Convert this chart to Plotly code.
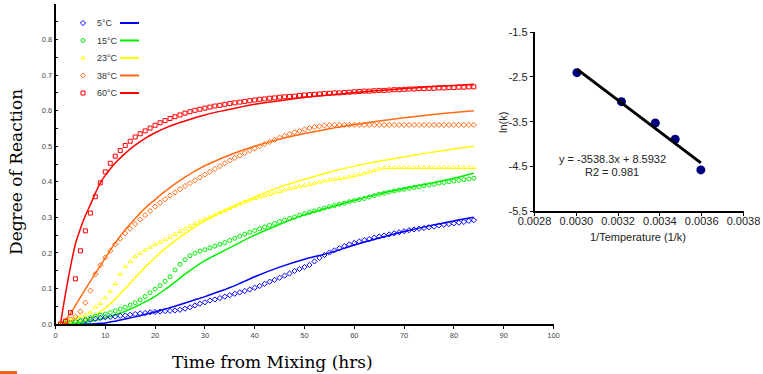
import numpy as np
import plotly.graph_objects as go

# ---------------- data ----------------
hours = list(range(1, 85))

deg_60C = [0.000, 0.008, 0.032, 0.127, 0.206, 0.262, 0.312, 0.358, 0.397, 0.428,
           0.452, 0.472, 0.488, 0.502, 0.514, 0.526, 0.535, 0.543, 0.551, 0.559,
           0.566, 0.572, 0.578, 0.583, 0.588, 0.593, 0.597, 0.601, 0.604, 0.607,
           0.610, 0.613, 0.615, 0.618, 0.620, 0.622, 0.624, 0.626, 0.628, 0.630,
           0.632, 0.633, 0.635, 0.636, 0.638, 0.639, 0.640, 0.641, 0.643, 0.644,
           0.645, 0.646, 0.647, 0.648, 0.649, 0.650, 0.650, 0.651, 0.652, 0.653,
           0.654, 0.655, 0.655, 0.656, 0.657, 0.657, 0.658, 0.659, 0.659, 0.660,
           0.661, 0.661, 0.662, 0.662, 0.663, 0.663, 0.664, 0.664, 0.665, 0.665,
           0.666, 0.666, 0.667, 0.667]

deg_38C = [0.000, 0.008, 0.013, 0.020, 0.035, 0.060, 0.094, 0.140, 0.165, 0.187,
           0.206, 0.224, 0.240, 0.255, 0.268, 0.281, 0.294, 0.306, 0.318, 0.330,
           0.341, 0.351, 0.361, 0.370, 0.379, 0.388, 0.396, 0.404, 0.412, 0.420,
           0.428, 0.436, 0.444, 0.452, 0.460, 0.467, 0.474, 0.481, 0.488, 0.494,
           0.500, 0.506, 0.512, 0.518, 0.524, 0.529, 0.534, 0.539, 0.543, 0.547,
           0.551, 0.554, 0.556, 0.558, 0.559, 0.560, 0.560, 0.560, 0.560, 0.560,
           0.560, 0.560, 0.560, 0.560, 0.560, 0.560, 0.560, 0.560, 0.560, 0.560,
           0.560, 0.560, 0.560, 0.560, 0.560, 0.560, 0.560, 0.560, 0.560, 0.560,
           0.560, 0.560, 0.560, 0.560]

deg_23C = [0.000, 0.007, 0.011, 0.016, 0.021, 0.025, 0.033, 0.047, 0.058, 0.074,
           0.092, 0.114, 0.140, 0.161, 0.176, 0.189, 0.199, 0.208, 0.216, 0.223,
           0.230, 0.237, 0.244, 0.252, 0.260, 0.267, 0.275, 0.282, 0.289, 0.295,
           0.301, 0.307, 0.313, 0.319, 0.325, 0.331, 0.337, 0.343, 0.348, 0.353,
           0.357, 0.361, 0.365, 0.369, 0.373, 0.377, 0.381, 0.384, 0.387, 0.390,
           0.393, 0.396, 0.399, 0.402, 0.405, 0.407, 0.409, 0.411, 0.414, 0.417,
           0.420, 0.424, 0.428, 0.432, 0.436, 0.439, 0.440, 0.440, 0.440, 0.440,
           0.440, 0.440, 0.440, 0.440, 0.440, 0.440, 0.440, 0.440, 0.440, 0.440,
           0.440, 0.440, 0.440, 0.440]

deg_15C = [0.000, 0.002, 0.004, 0.006, 0.009, 0.013, 0.018, 0.022, 0.025, 0.028,
           0.032, 0.037, 0.042, 0.047, 0.053, 0.060, 0.068, 0.077, 0.088, 0.098,
           0.108, 0.120, 0.133, 0.152, 0.168, 0.181, 0.192, 0.199, 0.205, 0.209,
           0.214, 0.219, 0.224, 0.229, 0.235, 0.241, 0.247, 0.253, 0.258, 0.263,
           0.268, 0.273, 0.278, 0.283, 0.288, 0.292, 0.297, 0.301, 0.306, 0.310,
           0.314, 0.318, 0.322, 0.326, 0.330, 0.333, 0.337, 0.340, 0.344, 0.347,
           0.350, 0.353, 0.357, 0.361, 0.365, 0.368, 0.371, 0.374, 0.377, 0.379,
           0.382, 0.384, 0.386, 0.389, 0.391, 0.393, 0.396, 0.398, 0.400, 0.402,
           0.404, 0.406, 0.408, 0.410]

deg_5C = [0.000, 0.002, 0.004, 0.007, 0.009, 0.011, 0.013, 0.015, 0.017, 0.019,
          0.020, 0.021, 0.023, 0.024, 0.026, 0.028, 0.030, 0.031, 0.033, 0.034,
          0.035, 0.036, 0.037, 0.038, 0.040, 0.043, 0.047, 0.052, 0.057, 0.061,
          0.066, 0.069, 0.073, 0.077, 0.081, 0.085, 0.089, 0.093, 0.097, 0.102,
          0.107, 0.113, 0.119, 0.124, 0.130, 0.136, 0.142, 0.149, 0.155, 0.160,
          0.166, 0.176, 0.186, 0.194, 0.201, 0.207, 0.213, 0.219, 0.224, 0.228,
          0.232, 0.236, 0.239, 0.243, 0.246, 0.249, 0.252, 0.255, 0.258, 0.261,
          0.264, 0.266, 0.268, 0.270, 0.272, 0.274, 0.277, 0.279, 0.281, 0.283,
          0.285, 0.287, 0.290, 0.292]

model_hours = [1, 2, 3, 4, 5, 6, 7, 8, 9, 10, 12, 14, 16, 18, 20, 22, 24, 26, 28, 30,
               33, 36, 40, 45, 50, 55, 60, 65, 70, 75, 80, 84]
model_60C = [0.000, 0.085, 0.160, 0.225, 0.268, 0.305, 0.335, 0.368, 0.397, 0.418,
             0.453, 0.480, 0.503, 0.522, 0.538, 0.551, 0.562, 0.571, 0.580, 0.588,
             0.598, 0.607, 0.618, 0.628, 0.637, 0.644, 0.651, 0.657, 0.662, 0.667,
             0.671, 0.674]
model_38C = [0.000, 0.012, 0.030, 0.052, 0.075, 0.098, 0.120, 0.142, 0.164, 0.186,
             0.228, 0.265, 0.297, 0.326, 0.350, 0.373, 0.394, 0.413, 0.430, 0.445,
             0.464, 0.481, 0.500, 0.520, 0.536, 0.549, 0.561, 0.571, 0.580, 0.588,
             0.595, 0.600]
model_23C = [0.000, 0.001, 0.003, 0.005, 0.008, 0.012, 0.018, 0.026, 0.035, 0.045,
             0.070, 0.100, 0.130, 0.160, 0.187, 0.212, 0.234, 0.254, 0.273, 0.290,
             0.313, 0.333, 0.357, 0.385, 0.407, 0.427, 0.444, 0.458, 0.470, 0.482,
             0.492, 0.500]
model_15C = [0.000, 0.000, 0.001, 0.002, 0.003, 0.005, 0.007, 0.010, 0.013, 0.017,
             0.026, 0.036, 0.048, 0.062, 0.078, 0.097, 0.118, 0.140, 0.160, 0.178,
             0.200, 0.222, 0.250, 0.280, 0.307, 0.328, 0.348, 0.366, 0.381, 0.395,
             0.410, 0.424]
model_5C = [0.000, 0.000, 0.000, 0.000, 0.000, 0.000, 0.000, 0.001, 0.002, 0.003,
            0.008, 0.014, 0.020, 0.027, 0.034, 0.042, 0.050, 0.059, 0.068, 0.077,
            0.092, 0.108, 0.133, 0.160, 0.182, 0.200, 0.222, 0.242, 0.260, 0.276,
            0.290, 0.300]

series_names = ["5°C", "15°C", "23°C", "38°C", "60°C"]
series_colors = ["#0000FF", "#00EE00", "#FFFF00", "#FF6A13", "#FF0000"]
series_symbols = ["diamond-open", "circle-open", "triangle-up-open", "diamond-open", "square-open"]
series_data = [deg_5C, deg_15C, deg_23C, deg_38C, deg_60C]
series_model = [model_5C, model_15C, model_23C, model_38C, model_60C]

# Arrhenius inset
inv_temp = [0.003003, 0.003216, 0.003378, 0.003473, 0.003596]
ln_k = [-2.404, -3.053, -3.529, -3.894, -4.581]
fit_text = ["y = -3538.3x + 8.5932", "R2 = 0.981"]
inset_x_ticks = [0.0028, 0.0030, 0.0032, 0.0034, 0.0036, 0.0038]
inset_y_ticks = [-5.5, -4.5, -3.5, -2.5, -1.5]

# ---------------- figure ----------------
W, H = 763, 374
fig = go.Figure()

for name, col, sym, d, m in zip(series_names, series_colors, series_symbols, series_data, series_model):
    fig.add_trace(go.Scatter(x=model_hours, y=m, mode="lines", line=dict(color=col, width=1.5, shape="spline"),
                             showlegend=False, hoverinfo="skip", xaxis="x", yaxis="y"))
for name, col, sym, d, m in zip(series_names, series_colors, series_symbols, series_data, series_model):
    fig.add_trace(go.Scatter(x=hours, y=d, mode="markers", name=name,
                             marker=dict(symbol=sym, size=4, color=col, line=dict(color=col, width=1)),
                             showlegend=False, xaxis="x", yaxis="y"))

# inset
coef = np.polyfit(inv_temp, ln_k, 1)
fx = [min(inv_temp), max(inv_temp)]
fy = [coef[0] * v + coef[1] for v in fx]
fig.add_trace(go.Scatter(x=inv_temp, y=ln_k, mode="markers",
                         marker=dict(color="#00007F", size=9), showlegend=False, xaxis="x2", yaxis="y2"))
fig.add_trace(go.Scatter(x=fx, y=fy, mode="lines", line=dict(color="black", width=3),
                         showlegend=False, xaxis="x2", yaxis="y2"))

# custom legend (pixel overlay axis)
LEG_MX, LEG_TX, LEG_L0, LEG_L1, LEG_Y0, LEG_DY = 83, 95, 120, 139, 23, 17.5
for i, (name, col, sym) in enumerate(zip(series_names, series_colors, series_symbols)):
    yy = LEG_Y0 + i * LEG_DY
    fig.add_trace(go.Scatter(x=[LEG_MX], y=[yy], mode="markers",
                             marker=dict(symbol=sym, size=4, color=col, line=dict(color=col, width=1)),
                             showlegend=False, xaxis="x3", yaxis="y3", hoverinfo="skip"))
    fig.add_trace(go.Scatter(x=[LEG_L0, LEG_L1], y=[yy, yy], mode="lines", line=dict(color=col, width=2),
                             showlegend=False, xaxis="x3", yaxis="y3", hoverinfo="skip"))
    fig.add_annotation(x=LEG_TX, y=yy, xref="x3", yref="y3", text=name, showarrow=False,
                       xanchor="left", yanchor="middle", font=dict(family="Liberation Sans", size=9, color="#333"))

tickfont_main = dict(family="Liberation Sans", size=7.5, color="#444")
tickfont_inset = dict(family="Liberation Sans", size=11, color="#222")

fig.update_layout(
    width=W, height=H, margin=dict(l=0, r=0, t=0, b=0, autoexpand=False),
    paper_bgcolor="white", plot_bgcolor="rgba(0,0,0,0)",
    xaxis=dict(domain=[55.5 / W, 553.5 / W], range=[0, 100], dtick=10, showgrid=False, zeroline=False,
               showline=True, linecolor="black", linewidth=1.5, ticks="outside", ticklen=3, tickcolor="black",
               tickfont=tickfont_main, anchor="y", automargin=False),
    yaxis=dict(domain=[1 - 324 / H, 1 - 4 / H], range=[0, 0.9], dtick=0.1, tickformat=".1f", showgrid=False,
               zeroline=False, showline=True, linecolor="black", linewidth=1.5, ticks="inside", ticklen=3,
               tickcolor="black", tickfont=tickfont_main, anchor="x", automargin=False,
               minor=dict(dtick=0.05, ticks="inside", ticklen=3, tickcolor="black")),
    xaxis2=dict(domain=[534.5 / W, 743.5 / W], range=[0.0028, 0.0038],
                tickvals=inset_x_ticks, ticktext=[f"{v:.4f}" for v in inset_x_ticks],
                showgrid=False, zeroline=False, showline=True, linecolor="black", linewidth=1.5,
                ticks="outside", ticklen=3, tickcolor="black", tickfont=tickfont_inset, anchor="y2",
                automargin=False, ticklabelstandoff=-4),
    yaxis2=dict(domain=[1 - 211 / H, 1 - 32.3 / H], range=[-5.5, -1.5],
                tickvals=inset_y_ticks, ticktext=[f"{v:.1f}" for v in inset_y_ticks],
                showgrid=False, zeroline=False, showline=True, linecolor="black", linewidth=1.5,
                ticks="outside", ticklen=3, tickcolor="black", tickfont=tickfont_inset, anchor="x2",
                automargin=False),
    xaxis3=dict(domain=[0, 1], range=[0, W], visible=False, anchor="y3", fixedrange=True, automargin=False),
    yaxis3=dict(domain=[0, 1], range=[H, 0], visible=False, anchor="x3", fixedrange=True, automargin=False),
    showlegend=False,
)

# titles
serif = "DejaVu Serif"
fig.add_annotation(x=272 / W, y=1 - 362 / H, xref="paper", yref="paper", text="Time from Mixing (hrs)",
                   showarrow=False, xanchor="center", yanchor="middle",
                   font=dict(family=serif, size=17, color="black"))
fig.add_annotation(x=16 / W, y=1 - 172 / H, xref="paper", yref="paper", text="Degree of Reaction",
                   showarrow=False, textangle=-90, xanchor="center", yanchor="middle",
                   font=dict(family=serif, size=17, color="black"))
fig.add_annotation(x=638 / W, y=1 - 237 / H, xref="paper", yref="paper", text="1/Temperature (1/k)",
                   showarrow=False, xanchor="center", yanchor="middle",
                   font=dict(family="Liberation Sans", size=11, color="#222"))
fig.add_annotation(x=503 / W, y=1 - 123 / H, xref="paper", yref="paper", text="ln(k)",
                   showarrow=False, textangle=-90, xanchor="center", yanchor="middle",
                   font=dict(family="Liberation Sans", size=11, color="#222"))
for i, t in enumerate(fit_text):
    fig.add_annotation(x=612 / W, y=1 - (158.5 + i * 14) / H, xref="paper", yref="paper", text=t,
                       showarrow=False, xanchor="center", yanchor="middle",
                       font=dict(family="Liberation Sans", size=11, color="#222"))

# decorative slide accent
fig.add_shape(type="rect", xref="paper", yref="paper", x0=0, x1=17 / W, y0=0, y1=3 / H,
              fillcolor="#F26522", line=dict(width=0))

fig.write_html("out.html", config={"displayModeBar": False},
               post_script="document.body.style.margin='0';document.body.style.overflow='hidden';")
